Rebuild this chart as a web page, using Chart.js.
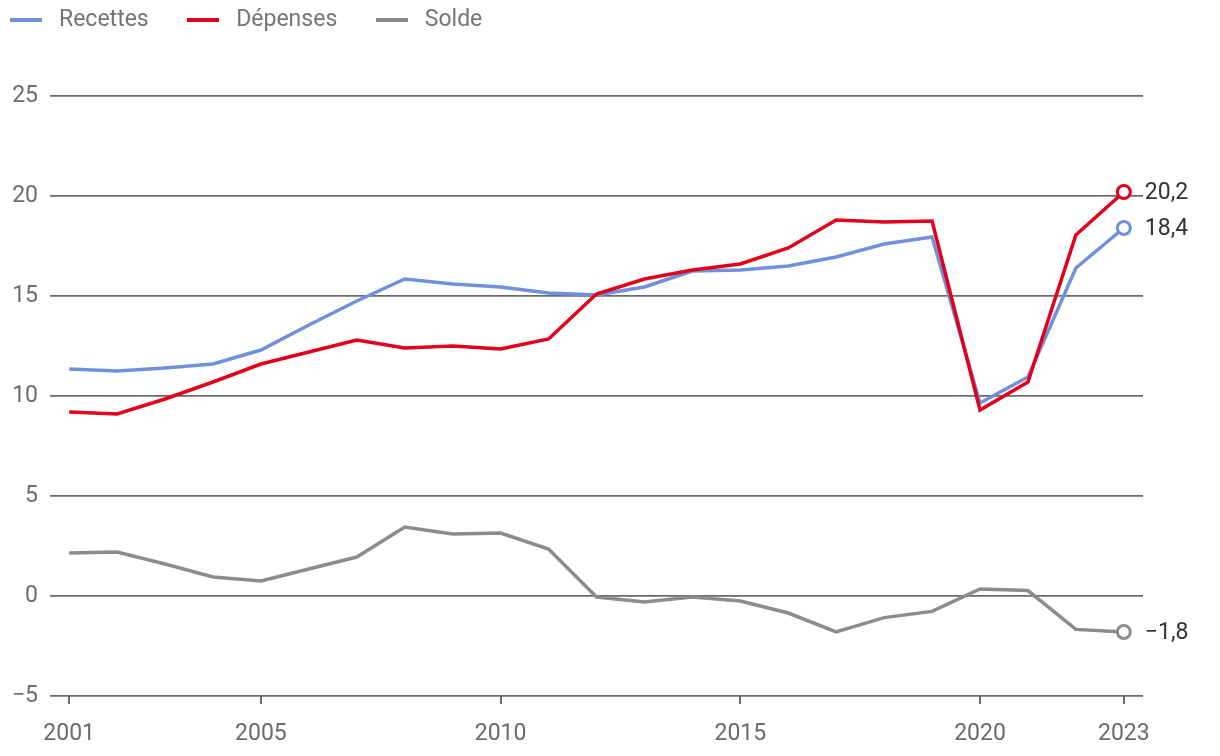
<!DOCTYPE html>
<html>
<head>
<meta charset="utf-8">
<script src="https://cdn.jsdelivr.net/npm/chart.js@4.4.1/dist/chart.umd.min.js"></script>
<style>
  html, body { margin: 0; padding: 0; background: #fff; }
  #wrap { width: 1220px; height: 756px; }
</style>
</head>
<body>
<div id="wrap"><canvas id="financeChart"></canvas></div>
<script>
const years = [2001, 2002, 2003, 2004, 2005, 2006, 2007, 2008, 2009, 2010, 2011, 2012,
  2013, 2014, 2015, 2016, 2017, 2018, 2019, 2020, 2021, 2022, 2023];
const recettes = [11.35, 11.25, 11.4, 11.6, 12.3, 13.55, 14.75, 15.85, 15.6, 15.45, 15.15, 15.05,
  15.45, 16.25, 16.3, 16.5, 16.95, 17.6, 17.95, 9.65, 10.95, 16.4, 18.4];
const depenses = [9.2, 9.1, 9.85, 10.7, 11.6, 12.2, 12.8, 12.4, 12.5, 12.35, 12.85, 15.1,
  15.85, 16.3, 16.6, 17.4, 18.8, 18.7, 18.75, 9.3, 10.7, 18.05, 20.2];
const solde = [2.15, 2.2, 1.6, 0.95, 0.75, 1.35, 1.95, 3.45, 3.1, 3.15, 2.35, -0.05,
  -0.3, -0.05, -0.25, -0.85, -1.8, -1.08, -0.77, 0.35, 0.27, -1.67, -1.8];
const xTicks = [2001, 2005, 2010, 2015, 2020, 2023];
const yTicks = [-5, 0, 5, 10, 15, 20, 25];

const FONT = 'Roboto, "Noto Sans", sans-serif';
const GRID = '#6a6a6a';

function toPoints(values) {
  return years.map((y, i) => ({ x: y, y: values[i] }));
}

function fmt(v) {
  const s = Math.abs(v).toFixed(1).replace('.', ',');
  return v < 0 ? '\u2212' + s : s;
}

function swatch(color) {
  const c = document.createElement('canvas');
  c.width = 32;
  c.height = 4;
  const g = c.getContext('2d');
  g.fillStyle = color;
  g.fillRect(0, 0, 32, 4);
  return c;
}

function lastOnly(size) {
  return (ctx) => ctx.dataIndex === years.length - 1 ? size : 0;
}

function series(label, values, color, order) {
  return {
    label: label,
    data: toPoints(values),
    borderColor: color,
    backgroundColor: '#fff',
    borderWidth: 3.5,
    tension: 0,
    order: order,
    clip: false,
    pointRadius: lastOnly(6.5),
    pointHoverRadius: lastOnly(6.5),
    pointBorderWidth: 3,
    pointBorderColor: color,
    pointBackgroundColor: '#fff',
    swatch: swatch(color)
  };
}

const endLabels = {
  id: 'endLabels',
  afterDatasetsDraw(chart) {
    const ctx = chart.ctx;
    ctx.save();
    ctx.font = '23px ' + FONT;
    ctx.fillStyle = '#333';
    ctx.textAlign = 'left';
    ctx.textBaseline = 'middle';
    chart.data.datasets.forEach((ds, i) => {
      const meta = chart.getDatasetMeta(i);
      const pt = meta.data[meta.data.length - 1];
      const v = ds.data[ds.data.length - 1].y;
      ctx.fillText(fmt(v), pt.x + 21, pt.y + 1);
    });
    ctx.restore();
  }
};

const ctx = document.getElementById('financeChart').getContext('2d');

new Chart(ctx, {
  type: 'line',
  data: {
    datasets: [
      series('Recettes', recettes, '#7090db', 1),
      series('Dépenses', depenses, '#e2001a', 0),
      series('Solde', solde, '#8c8c8c', 2)
    ]
  },
  options: {
    responsive: true,
    maintainAspectRatio: false,
    animation: false,
    layout: {
      padding: { left: -28.5, top: -24.5, right: 77, bottom: 0 }
    },
    scales: {
      x: {
        type: 'linear',
        min: 2000.6,
        max: 2023.4,
        afterBuildTicks: (scale) => { scale.ticks = xTicks.map(v => ({ value: v })); },
        afterFit: (scale) => { scale.height = 60; },
        border: { display: false },
        grid: {
          drawOnChartArea: false,
          drawTicks: true,
          tickLength: 8,
          color: GRID,
          lineWidth: 2
        },
        ticks: {
          color: '#6b6b6b',
          padding: 16,
          maxRotation: 0,
          font: { family: FONT, size: 23 },
          callback: (v) => String(v)
        }
      },
      y: {
        min: -5,
        max: 27.725,
        afterBuildTicks: (scale) => { scale.ticks = yTicks.map(v => ({ value: v })); },
        afterFit: (scale) => { scale.width = 78.5; },
        border: { display: false },
        grid: {
          drawTicks: false,
          color: GRID,
          lineWidth: 1.8
        },
        ticks: {
          color: '#6b6b6b',
          padding: 12,
          font: { family: FONT, size: 23 },
          callback: (v) => v < 0 ? '\u2212' + Math.abs(v) : String(v)
        }
      }
    },
    plugins: {
      legend: {
        position: 'top',
        align: 'start',
        labels: {
          usePointStyle: true,
          pointStyleWidth: 43,
          padding: 33,
          color: '#757575',
          font: { family: FONT, size: 23 },
          generateLabels: (chart) => {
            const items = Chart.defaults.plugins.legend.labels.generateLabels(chart);
            items.sort((a, b) => a.datasetIndex - b.datasetIndex);
            items.forEach((it) => {
              it.pointStyle = chart.data.datasets[it.datasetIndex].swatch;
            });
            return items;
          }
        }
      },
      tooltip: { enabled: false }
    }
  },
  plugins: [endLabels]
});
</script>
</body>
</html>
